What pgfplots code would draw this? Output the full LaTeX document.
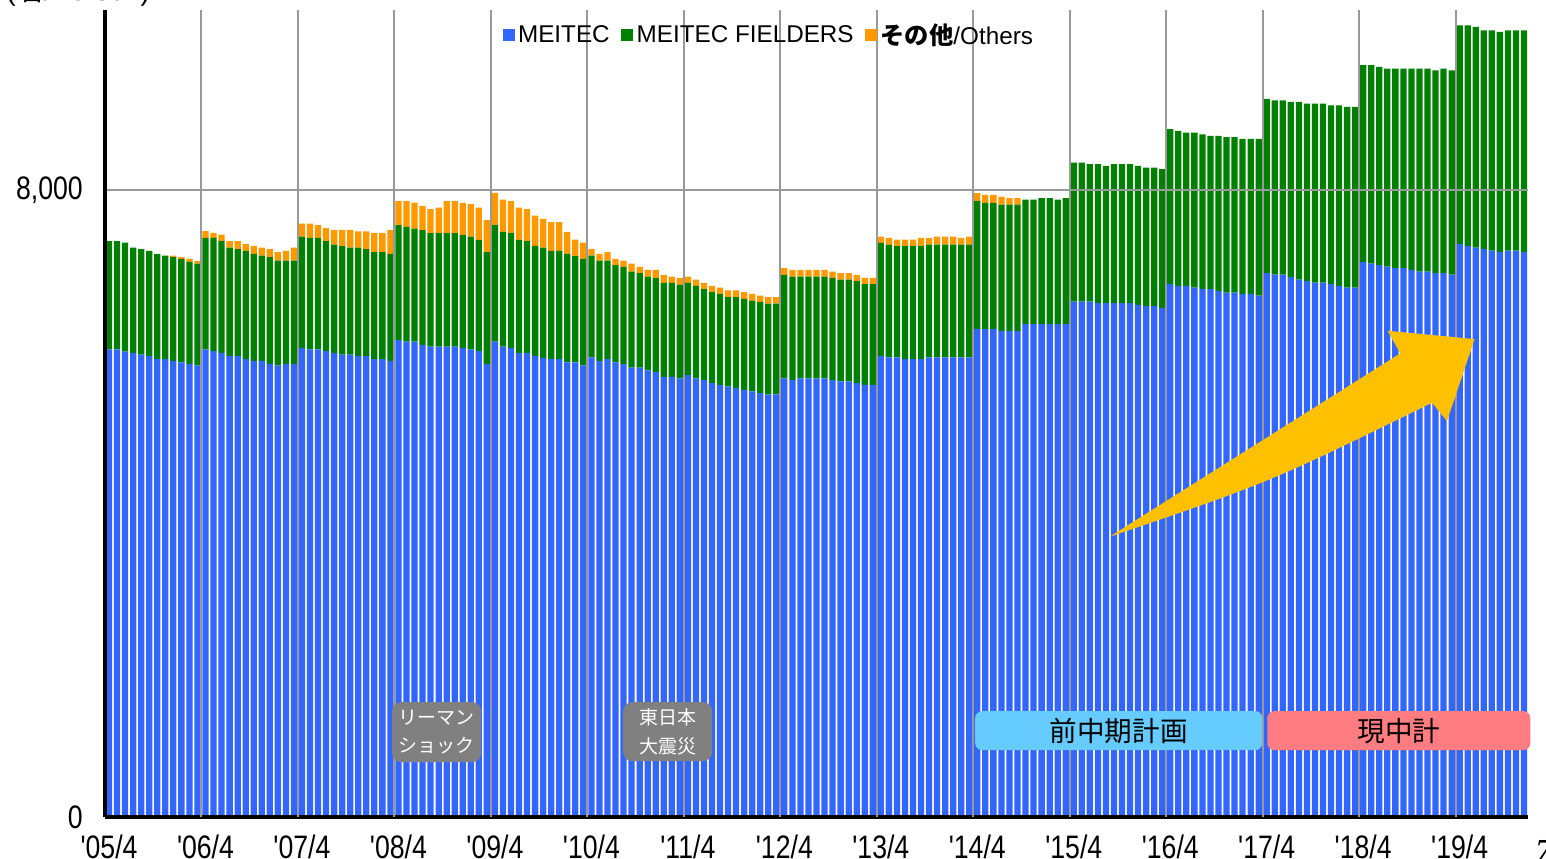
\documentclass[border=0pt]{standalone}
\usepackage{pgfplots}
\pgfplotsset{compat=1.18}
\usepackage{pgfplotstable}
\usepackage{fontspec}
\setmainfont{Liberation Sans}
\newfontfamily\jp{Noto Sans CJK JP}
\newfontfamily\serifit{Liberation Serif}
\usetikzlibrary{calc}
\definecolor{mblue}{HTML}{3366FF}
\definecolor{mgreen}{HTML}{008000}
\definecolor{morange}{HTML}{FF9900}
\definecolor{gridgray}{HTML}{999999}
\definecolor{boxgray}{HTML}{808080}
\definecolor{boxblue}{HTML}{66CCFF}
\definecolor{boxpink}{HTML}{FF7C80}
\definecolor{arrowgold}{HTML}{FFC000}
\newcommand{\tl}[1]{\scalebox{0.82}[1]{#1}}
\newcommand{\q}{\textquotesingle}

\pgfplotstableread{
x m f o
0 5967 1382 0
1 5967 1382 0
2 5941 1391 0
3 5924 1344 0
4 5903 1344 0
5 5886 1340 0
6 5844 1344 0
7 5844 1322 0
8 5822 1323 21
9 5801 1323 21
10 5784 1302 42
11 5763 1301 30
12 5967 1425 85
13 5946 1446 64
14 5924 1429 81
15 5886 1382 81
16 5886 1361 102
17 5844 1382 85
18 5822 1366 102
19 5822 1344 102
20 5784 1361 102
21 5763 1339 107
22 5784 1318 124
23 5784 1318 166
24 5988 1421 166
25 5967 1425 183
26 5967 1425 161
27 5946 1403 166
28 5924 1383 187
29 5903 1382 209
30 5903 1365 226
31 5886 1382 205
32 5886 1361 226
33 5844 1365 242
34 5844 1365 242
35 5822 1366 306
36 6086 1467 307
37 6069 1463 328
38 6069 1442 332
39 6026 1464 310
40 6005 1446 307
41 6005 1446 328
42 6005 1446 409
43 6005 1446 409
44 5984 1446 408
45 5967 1442 412
46 5946 1420 413
47 5780 1429 408
48 6069 1484 413
49 6005 1463 413
50 5984 1467 409
51 5924 1442 413
52 5924 1425 409
53 5882 1408 387
54 5861 1407 366
55 5844 1382 366
56 5844 1382 366
57 5801 1387 280
58 5801 1357 212
59 5763 1361 208
60 5865 1301 81
61 5818 1284 86
62 5844 1258 107
63 5801 1242 81
64 5780 1242 80
65 5737 1225 102
66 5737 1204 81
67 5699 1199 85
68 5678 1199 106
69 5618 1200 102
70 5618 1200 80
71 5597 1199 85
72 5640 1178 80
73 5597 1182 81
74 5576 1161 81
75 5537 1161 81
76 5516 1161 81
77 5495 1140 85
78 5474 1161 85
79 5452 1161 85
80 5431 1161 85
81 5410 1165 81
82 5393 1161 81
83 5393 1161 81
84 5597 1323 85
85 5576 1322 85
86 5597 1301 85
87 5597 1301 85
88 5597 1301 85
89 5597 1301 85
90 5576 1305 81
91 5559 1301 81
92 5559 1301 81
93 5537 1302 81
94 5516 1284 81
95 5516 1284 81
96 5882 1446 81
97 5865 1442 85
98 5865 1420 85
99 5844 1441 85
100 5844 1441 85
101 5844 1441 107
102 5865 1442 85
103 5865 1442 102
104 5865 1442 102
105 5865 1442 102
106 5865 1442 85
107 5865 1442 102
108 6226 1634 102
109 6226 1612 102
110 6226 1612 102
111 6205 1612 102
112 6205 1612 81
113 6205 1612 81
114 6290 1591 0
115 6290 1591 0
116 6290 1608 0
117 6290 1608 0
118 6290 1591 0
119 6290 1608 0
120 6579 1774 0
121 6579 1774 0
122 6579 1753 0
123 6558 1774 0
124 6558 1752 0
125 6558 1774 0
126 6558 1774 0
127 6558 1774 0
128 6537 1773 0
129 6520 1769 0
130 6520 1769 0
131 6499 1769 0
132 6800 1978 0
133 6779 1978 0
134 6779 1957 0
135 6758 1978 0
136 6737 1977 0
137 6737 1956 0
138 6715 1978 0
139 6694 1982 0
140 6694 1982 0
141 6677 1978 0
142 6677 1978 0
143 6656 1999 0
144 6941 2224 0
145 6924 2224 0
146 6924 2224 0
147 6890 2237 0
148 6860 2267 0
149 6839 2267 0
150 6822 2284 0
151 6822 2284 0
152 6800 2284 0
153 6779 2305 0
154 6758 2305 0
155 6758 2305 0
156 7086 2509 0
157 7064 2531 0
158 7043 2530 0
159 7026 2526 0
160 7005 2547 0
161 7005 2547 0
162 6983 2569 0
163 6962 2590 0
164 6962 2590 0
165 6941 2590 0
166 6941 2611 0
167 6924 2607 0
168 7311 2794 0
169 7290 2815 0
170 7268 2816 0
171 7247 2794 0
172 7230 2811 0
173 7209 2811 0
174 7230 2811 0
175 7230 2811 0
176 7209 2832 0
}\datatable

\begin{document}
\begin{tikzpicture}
\begin{axis}[
  at={(2.1cm,-16.34cm)}, anchor=south west,
  scale only axis, width=28.46cm, height=16.14cm,
  ybar stacked, bar width=0.78,
  xmin=-0.5, xmax=176.5, ymin=0, ymax=10300,
  axis lines*=left,
  axis line style={line width=0.08cm, black},
  axis on top,
  xtick={0,12,...,168},
  xticklabels={\tl{\q05/4},\tl{\q06/4},\tl{\q07/4},\tl{\q08/4},\tl{\q09/4},\tl{\q10/4},\tl{\q11/4},\tl{\q12/4},\tl{\q13/4},\tl{\q14/4},\tl{\q15/4},\tl{\q16/4},\tl{\q17/4},\tl{\q18/4},\tl{\q19/4}},
  extra x ticks={11.5,23.5,...,167.5},
  extra x tick labels={},
  extra x tick style={grid=major, major tick length=0pt},
  ytick={0,8000},
  yticklabels={\tl{0},\tl{8,000}},
  ymajorgrids=true,
  major grid style={gridgray, line width=0.04cm},
  major tick length=0pt,
  tick label style={font=\fontsize{18.5}{21}\selectfont},
  x tick label style={yshift=-0.31cm, inner sep=1pt},
  y tick label style={xshift=-0.32cm},
  legend style={at={(0.467,0.969)}, anchor=center, draw=none, fill=none,
    legend columns=-1, font=\fontsize{13.8}{16}\selectfont,
    /tikz/every even column/.append style={column sep=0.16cm}},
]
\addplot[fill=mblue, draw=none, legend image code/.code={\fill[mblue] (0cm,-0.12cm) rectangle (0.24cm,0.12cm);}] table[x=x,y=m]{\datatable};
\addlegendentry{MEITEC}
\addplot[fill=mgreen, draw=none, legend image code/.code={\fill[mgreen] (0cm,-0.12cm) rectangle (0.24cm,0.12cm);}] table[x=x,y=f]{\datatable};
\addlegendentry{MEITEC FIELDERS}
\addplot[fill=morange, draw=none, legend image code/.code={\fill[morange] (0cm,-0.12cm) rectangle (0.24cm,0.12cm);}] table[x=x,y=o]{\datatable};
\addlegendentry{{\jp\bfseries その他}/Others}
\end{axis}
\begin{scope}[x=0.02cm,y=-0.02cm]
\fill[boxgray, rounded corners=0.18cm] (392,702) rectangle (481,762);
\node[white, font=\jp\fontsize{10.8}{16.3}\selectfont, align=center] at (436.5,732) {リーマン\\ショック};
\fill[boxgray, rounded corners=0.18cm] (623,702) rectangle (712,761);
\node[white, font=\jp\fontsize{10.8}{16.3}\selectfont, align=center] at (667.5,732) {東日本\\大震災};
\fill[boxblue, rounded corners=0.14cm] (975,711) rectangle (1262,750);
\node[font=\jp\fontsize{15.7}{18}\selectfont] at (1118.5,730.5) {前中期計画};
\fill[boxpink, rounded corners=0.14cm] (1267,711) rectangle (1530,750);
\node[font=\jp\fontsize{15.7}{18}\selectfont] at (1398.5,730.5) {現中計};
\fill[arrowgold] (1109.3,536.7) -- (1400,353.3) -- (1387.3,330.7) -- (1474.3,339) -- (1446.7,421) -- (1431.7,402.7) .. controls (1270,482) .. (1109.3,536.7) -- cycle;
\node[anchor=base west, inner sep=0pt, font=\fontsize{16}{20}\selectfont] at (6,1) {({\jp 名}/Person)};
\node[anchor=base west, inner sep=0pt, font=\serifit\itshape\fontsize{20}{24}\selectfont] at (1534,863) {7};
\end{scope}
\pgfresetboundingbox
\useasboundingbox (0,0) rectangle (30.92cm,-17.18cm);
\end{tikzpicture}
\end{document}
